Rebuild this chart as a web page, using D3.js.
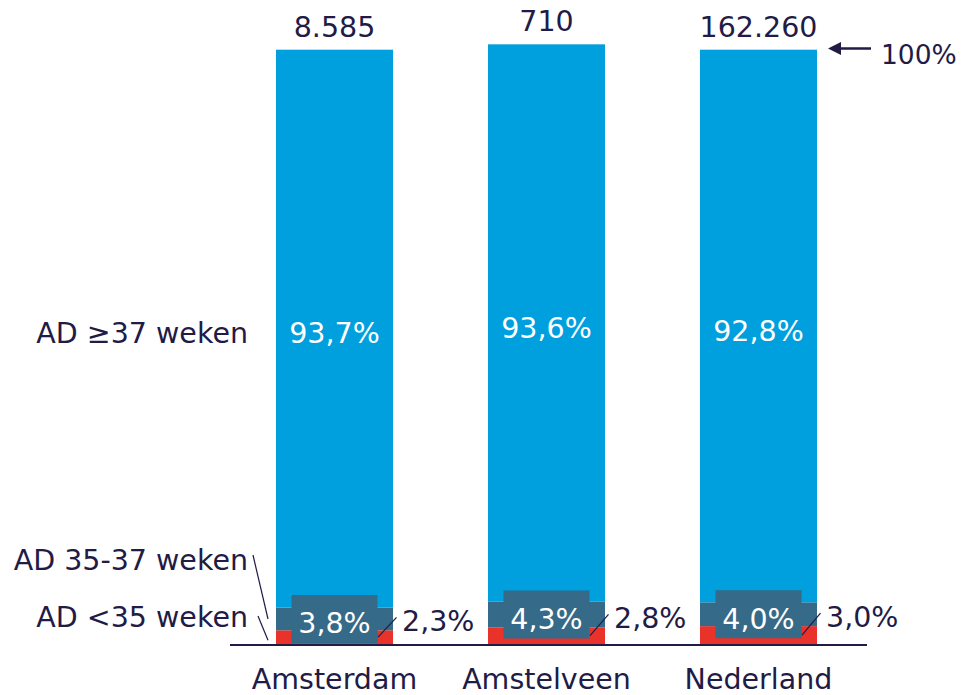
<!DOCTYPE html>
<html>
<head>
<meta charset="utf-8">
<script src="https://cdn.jsdelivr.net/npm/d3@7"></script>
<style>
  html, body { margin: 0; padding: 0; background: #fff; }
  svg { display: block; font-family: "DejaVu Sans", Verdana, sans-serif; }
</style>
</head>
<body>
<svg id="chart" width="961" height="695"></svg>
<script>
// Regions and their number of births
const regions = ["Amsterdam", "Amstelveen", "Nederland"];
const totals = ["8.585", "710", "162.260"];

// Share of births by gestational age (%)
const under35 = [2.3, 2.8, 3.0];
const from35to37 = [3.8, 4.3, 4.0];
const atLeast37 = [93.7, 93.6, 92.8];

const seriesNames = ["AD <35 weken", "AD 35-37 weken", "AD \u226537 weken"];
const colors = ["#e8322a", "#356a88", "#009fdd"];
const ink = "#221b45";

const fmt = v => v.toFixed(1).replace(".", ",") + "%";

const svg = d3.select("#chart");

const x = d3.scaleBand()
  .domain(regions)
  .range([276, 817])
  .paddingInner(0.448)
  .paddingOuter(0);

const y = d3.scaleLinear().domain([0, 100]).range([644, 48.5]);

const rows = regions.map((r, i) => ({
  region: r, total: totals[i],
  v: [under35[i], from35to37[i], atLeast37[i]]
}));

const stack = d3.stack().keys([0, 1, 2]).value((d, k) => d.v[k]);
const layers = stack(rows);

// stacked bars
svg.append("g").selectAll("g")
  .data(layers)
  .join("g")
  .attr("fill", (d, i) => colors[i])
  .selectAll("rect")
  .data(d => d)
  .join("rect")
  .attr("x", d => x(d.data.region))
  .attr("width", x.bandwidth())
  .attr("y", d => y(d[1]))
  .attr("height", d => y(d[0]) - y(d[1]));

// axis baseline
svg.append("line")
  .attr("x1", 230).attr("x2", 867)
  .attr("y1", 645).attr("y2", 645)
  .attr("stroke", ink).attr("stroke-width", 2);

// category labels
svg.append("g").selectAll("text")
  .data(regions)
  .join("text")
  .attr("x", d => x(d) + x.bandwidth() / 2)
  .attr("y", 689)
  .attr("text-anchor", "middle")
  .attr("font-size", 28.5)
  .attr("fill", ink)
  .text(d => d);

// totals on top of bars
svg.append("g").selectAll("text")
  .data(layers[2])
  .join("text")
  .attr("x", d => x(d.data.region) + x.bandwidth() / 2)
  .attr("y", d => y(d[1]) - 13)
  .attr("text-anchor", "middle")
  .attr("font-size", 28.5)
  .attr("fill", ink)
  .text(d => d.data.total);

// ≥37 weeks labels inside the bars
svg.append("g").selectAll("text")
  .data(layers[2])
  .join("text")
  .attr("x", d => x(d.data.region) + x.bandwidth() / 2)
  .attr("y", d => (y(d[0]) + y(d[1])) / 2 + 14.5)
  .attr("text-anchor", "middle")
  .attr("font-size", 28.5)
  .attr("fill", "#fff")
  .text(d => fmt(d.data.v[2]));

// 35-37 weeks labels on a widened box
const mid = layers[1].map(d => ({ d, m: (y(d[0]) + y(d[1])) / 2 }));
svg.append("g").selectAll("rect")
  .data(mid)
  .join("rect")
  .attr("x", o => x(o.d.data.region) + x.bandwidth() / 2 - 43)
  .attr("width", 86)
  .attr("y", o => o.m - 24)
  .attr("height", 48)
  .attr("fill", colors[1]);

svg.append("g").selectAll("text")
  .data(mid)
  .join("text")
  .attr("x", o => x(o.d.data.region) + x.bandwidth() / 2)
  .attr("y", o => o.m + 14.5)
  .attr("text-anchor", "middle")
  .attr("font-size", 28.5)
  .attr("fill", "#fff")
  .text(o => fmt(o.d.data.v[1]));

// <35 weeks labels outside the bars, with a leader
const redG = svg.append("g");
layers[0].forEach(d => {
  const right = x(d.data.region) + x.bandwidth();
  const top = y(d[1]);
  redG.append("line")
    .attr("x1", right - 15).attr("y1", (y(d[0]) + top) / 2)
    .attr("x2", right + 3.5).attr("y2", top - 13)
    .attr("stroke", ink).attr("stroke-width", 1.2);
  redG.append("text")
    .attr("x", right + 9)
    .attr("y", top - 10 + 10.5)
    .attr("font-size", 28.5)
    .attr("fill", ink)
    .text(fmt(d.data.v[0]));
});

// series legend on the left
const first = layers.map(l => l[0]);
const x0 = x(regions[0]);
const leg = svg.append("g").attr("fill", ink).attr("font-size", 28.5).attr("text-anchor", "end");
leg.append("text")
  .attr("x", x0 - 28)
  .attr("y", (y(first[2][0]) + y(first[2][1])) / 2 + 14.5)
  .text(seriesNames[2]);
leg.append("text")
  .attr("x", x0 - 28)
  .attr("y", 570)
  .text(seriesNames[1]);
leg.append("text")
  .attr("x", x0 - 28)
  .attr("y", 627)
  .text(seriesNames[0]);

svg.append("line")
  .attr("x1", x0 - 23).attr("y1", 555)
  .attr("x2", x0 - 8).attr("y2", (y(first[1][0]) + y(first[1][1])) / 2)
  .attr("stroke", ink).attr("stroke-width", 1.2);
svg.append("line")
  .attr("x1", x0 - 18).attr("y1", 616)
  .attr("x2", x0 - 8).attr("y2", (y(first[0][0]) + y(first[0][1])) / 2 + 3)
  .attr("stroke", ink).attr("stroke-width", 1.2);

// 100% marker
const y100 = y(100);
svg.append("line")
  .attr("x1", 836).attr("x2", 871)
  .attr("y1", y100).attr("y2", y100)
  .attr("stroke", ink).attr("stroke-width", 2.4);
svg.append("path")
  .attr("d", `M828,${y100} L841,${y100 - 6.5} L841,${y100 + 6.5} Z`)
  .attr("fill", ink);
svg.append("text")
  .attr("x", 881)
  .attr("y", y100 + 15)
  .attr("font-size", 26.5)
  .attr("fill", ink)
  .text("100%");
</script>
</body>
</html>
